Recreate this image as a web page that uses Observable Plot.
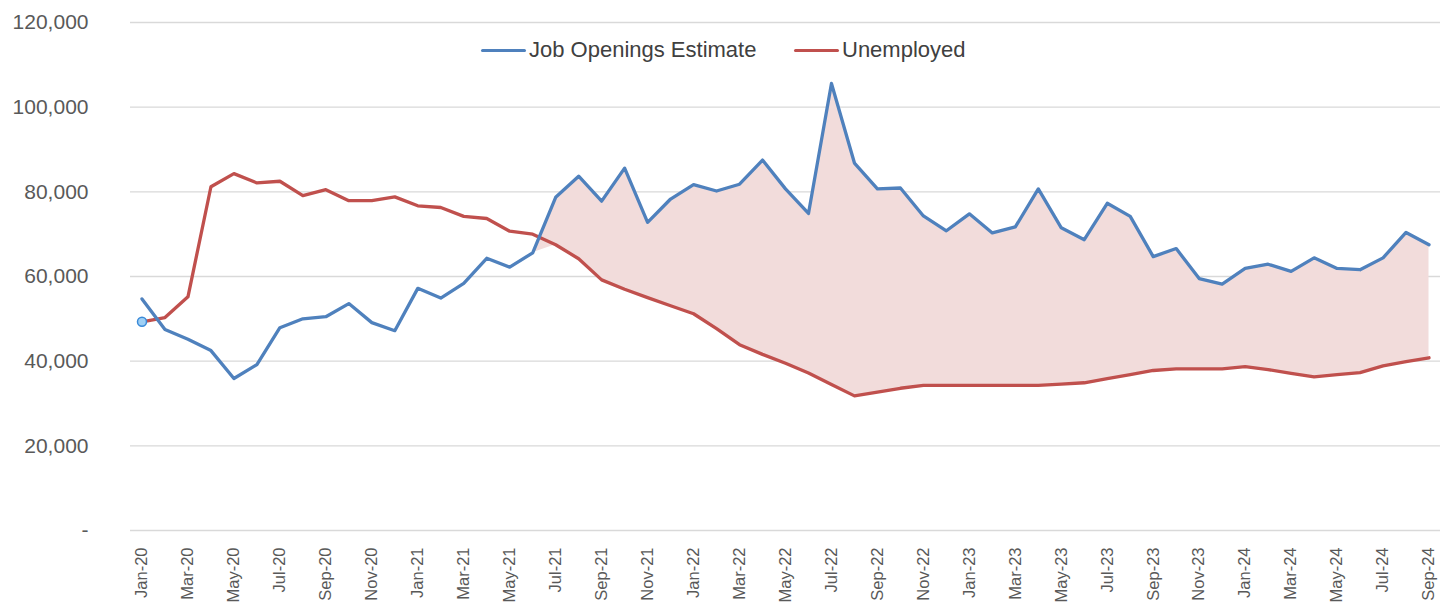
<!DOCTYPE html>
<html>
<head>
<meta charset="utf-8">
<script src="https://cdn.jsdelivr.net/npm/d3@7"></script>
<script src="https://cdn.jsdelivr.net/npm/@observablehq/plot@0.6"></script>
<style>
  html, body { margin: 0; padding: 0; background: #fff; }
  #wrap { position: relative; width: 1440px; height: 613px; font-family: "Liberation Sans", Arial, sans-serif; }
  .leg { position: absolute; top: 38px; height: 24px; display: flex; align-items: center; font-size: 22px; color: #404040; white-space: nowrap; }
  .sw { display: inline-block; width: 45px; height: 3px; border-radius: 2px; margin-right: 3px; }
</style>
</head>
<body>
<div id="wrap">
  <div class="leg" style="left:481px"><span class="sw" style="background:#4f81bd"></span>Job Openings Estimate</div>
  <div class="leg" style="left:794px"><span class="sw" style="background:#c0504d"></span>Unemployed</div>
</div>
<script>
const months = [
  "Jan-20","Feb-20","Mar-20","Apr-20","May-20","Jun-20","Jul-20","Aug-20","Sep-20","Oct-20","Nov-20","Dec-20",
  "Jan-21","Feb-21","Mar-21","Apr-21","May-21","Jun-21","Jul-21","Aug-21","Sep-21","Oct-21","Nov-21","Dec-21",
  "Jan-22","Feb-22","Mar-22","Apr-22","May-22","Jun-22","Jul-22","Aug-22","Sep-22","Oct-22","Nov-22","Dec-22",
  "Jan-23","Feb-23","Mar-23","Apr-23","May-23","Jun-23","Jul-23","Aug-23","Sep-23","Oct-23","Nov-23","Dec-23",
  "Jan-24","Feb-24","Mar-24","Apr-24","May-24","Jun-24","Jul-24","Aug-24","Sep-24"
];

const jobOpenings = [
  54700, 47500, 45200, 42500, 35900, 39200, 47900, 50000, 50500, 53600, 49100, 47200,
  57200, 54900, 58400, 64300, 62200, 65600, 78700, 83700, 77800, 85600, 72800, 78300,
  81700, 80200, 81800, 87500, 80700, 74900, 105600, 86800, 80700, 80900, 74300, 70800,
  74800, 70300, 71700, 80700, 71500, 68700, 77300, 74200, 64700, 66600, 59500, 58200,
  61900, 62900, 61200, 64400, 61900, 61600, 64400, 70400, 67500
];

const unemployed = [
  49300, 50300, 55200, 81200, 84300, 82100, 82500, 79100, 80500, 77900, 77900, 78800,
  76700, 76300, 74200, 73700, 70700, 70000, 67500, 64200, 59200, 57000, 55000, 53100,
  51200, 47700, 43900, 41600, 39500, 37200, 34500, 31800, 32700, 33600, 34300, 34300,
  34300, 34300, 34300, 34300, 34600, 34900, 35900, 36800, 37800, 38200, 38200, 38200,
  38700, 38000, 37100, 36300, 36800, 37300, 38900, 39900, 40800
];

// the shaded gap starts at this month
const gapStart = "Jun-21";

const yTicks = [0, 20000, 40000, 60000, 80000, 100000, 120000];
const xTickIdx = months.map((m, i) => i).filter(i => i % 2 === 0);

const rows = months.map((m, i) => ({ i, label: m, jobs: jobOpenings[i], unemp: unemployed[i] }));
const gapRows = rows.slice(months.indexOf(gapStart));

const chart = Plot.plot({
  width: 1440,
  height: 613,
  marginLeft: 130,
  marginRight: 0,
  marginTop: 22,
  marginBottom: 83,
  style: { fontFamily: "'Liberation Sans', Arial, sans-serif", background: "transparent", overflow: "visible" },
  x: { type: "linear", domain: [-0.5, months.length - 0.5] },
  y: { domain: [0, 120000] },
  marks: [
    Plot.gridY(yTicks, { stroke: "#d9d9d9", strokeOpacity: 1, strokeWidth: 1.3 }),
    Plot.areaY(gapRows, { x: "i", y1: d => Math.min(d.jobs, d.unemp), y2: "jobs", fill: "#f2dcdb", curve: "linear" }),
    Plot.lineY(rows, { x: "i", y: "unemp", stroke: "#c0504d", strokeWidth: 3.3, strokeLinejoin: "round" }),
    Plot.lineY(rows, { x: "i", y: "jobs", stroke: "#4f81bd", strokeWidth: 3.3, strokeLinejoin: "round" }),
    Plot.dot(rows.slice(0, 1), { x: "i", y: "unemp", r: 4.5, fill: "#9fd0f5", stroke: "#3a8ad8", strokeWidth: 1.5 }),
    Plot.axisY(yTicks, {
      tickSize: 0, tickPadding: 42, fontSize: 21, fill: "#595959",
      tickFormat: d => d === 0 ? "-" : d3.format(",")(d), label: null
    }),
    Plot.axisX(xTickIdx, {
      tickSize: 0, tickPadding: 17, tickRotate: -90, fontSize: 16.5, fill: "#595959",
      tickFormat: i => months[i], label: null
    })
  ]
});
chart.style.position = "absolute";
chart.style.left = "0";
chart.style.top = "0";
document.getElementById("wrap").prepend(chart);
</script>
</body>
</html>
